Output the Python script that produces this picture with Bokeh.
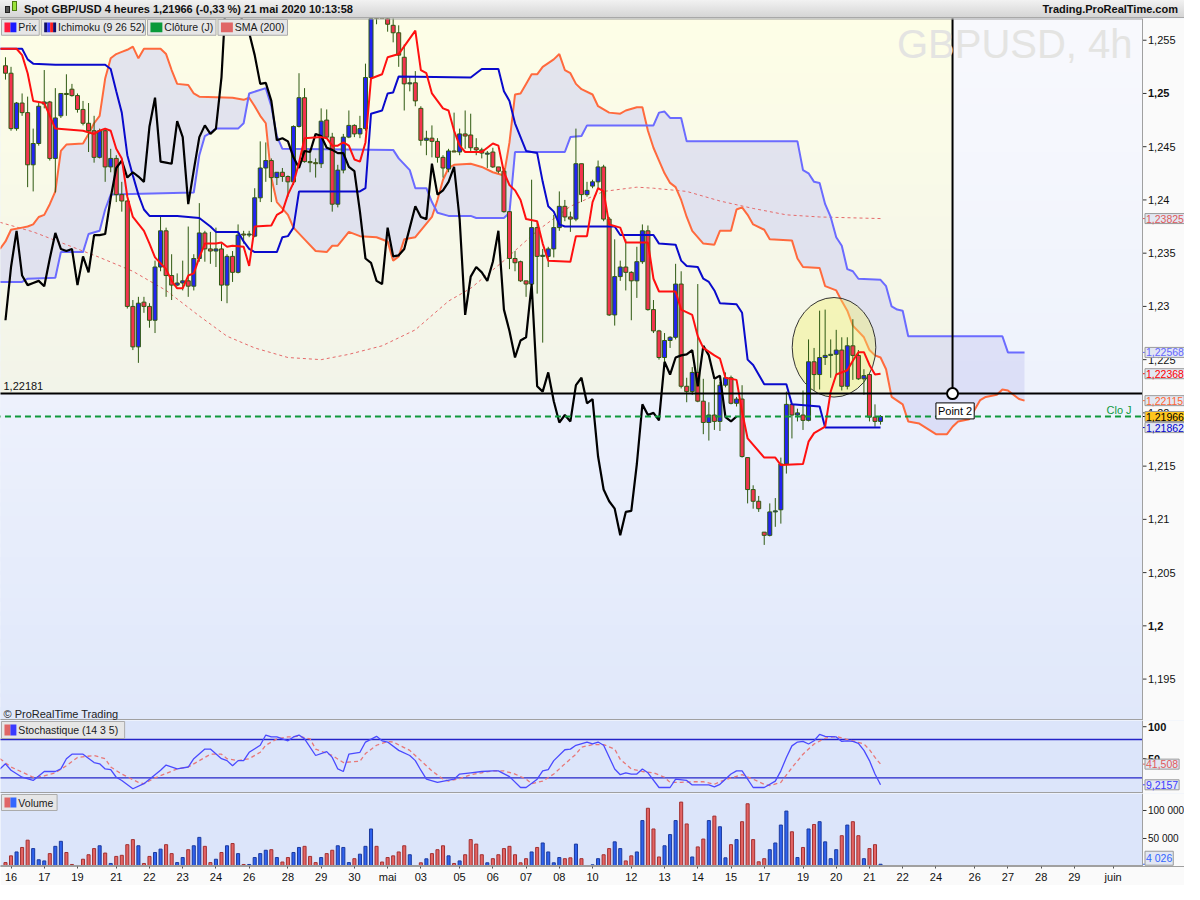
from bokeh.plotting import figure
from bokeh.models import Range1d, FixedTicker, Span, Label, Div, ColumnDataSource
from bokeh.layouts import column
from bokeh.embed import file_html
from bokeh.resources import INLINE

# ---------------- DATA ----------------
open_ = [1.2526,1.2519,1.2467,1.2491,1.2482,1.2433,1.2453,1.2490,1.2492,1.2439,
         1.2479,1.2500,1.2504,1.2498,1.2485,1.2472,1.2465,1.2440,1.2465,1.2431,
         1.2439,1.2405,1.2399,1.2300,1.2262,1.2304,1.2300,1.2287,1.2337,1.2371,
         1.2329,1.2320,1.2322,1.2324,1.2319,1.2345,1.2369,1.2354,1.2352,1.2354,
         1.2320,1.2347,1.2332,1.2368,1.2367,1.2366,1.2402,1.2430,1.2437,1.2421,
         1.2426,1.2422,1.2417,1.2469,1.2496,1.2436,1.2435,1.2434,1.2475,1.2459,
         1.2396,1.2428,1.2459,1.2470,1.2462,1.2467,1.2515,1.2610,1.2590,1.2580,
         1.2564,1.2557,1.2534,1.2509,1.2510,1.2486,1.2456,1.2458,1.2455,1.2440,
         1.2429,1.2446,1.2445,1.2462,1.2461,1.2449,1.2447,1.2443,1.2445,1.2431,
         1.2427,1.2389,1.2345,1.2342,1.2324,1.2321,1.2374,1.2347,1.2347,1.2354,
         1.2374,1.2394,1.2384,1.2382,1.2434,1.2405,1.2413,1.2417,1.2431,1.2382,
         1.2292,1.2328,1.2337,1.2332,1.2324,1.2342,1.2371,1.2297,1.2277,1.2252,
         1.2268,1.2271,1.2321,1.2225,1.2220,1.2238,1.2211,1.2191,1.2198,1.2192,
         1.2226,1.2233,1.2209,1.2213,1.2158,1.2128,1.2117,1.2088,1.2085,1.2107,
         1.2109,1.2152,1.2208,1.2198,1.2198,1.2193,1.2248,1.2236,1.2252,1.2254,
         1.2255,1.2259,1.2225,1.2263,1.2254,1.2232,1.2236,1.2196,1.2192]
high = [1.2534,1.2525,1.2492,1.2500,1.2497,1.2467,1.2491,1.2522,1.2493,1.2505,
        1.2500,1.2518,1.2509,1.2500,1.2493,1.2491,1.2479,1.2467,1.2467,1.2448,
        1.2442,1.2417,1.2400,1.2306,1.2309,1.2309,1.2303,1.2343,1.2384,1.2374,
        1.2349,1.2331,1.2343,1.2375,1.2349,1.2397,1.2371,1.2370,1.2374,1.2359,
        1.2349,1.2352,1.2377,1.2371,1.2371,1.2411,1.2455,1.2454,1.2439,1.2426,
        1.2430,1.2423,1.2470,1.2519,1.2505,1.2448,1.2439,1.2486,1.2485,1.2463,
        1.2433,1.2462,1.2484,1.2471,1.2479,1.2528,1.2643,1.2630,1.2610,1.2590,
        1.2571,1.2564,1.2546,1.2516,1.2521,1.2488,1.2465,1.2470,1.2458,1.2442,
        1.2448,1.2482,1.2467,1.2484,1.2481,1.2458,1.2449,1.2446,1.2449,1.2431,
        1.2430,1.2389,1.2352,1.2343,1.2324,1.2419,1.2380,1.2354,1.2356,1.2386,
        1.2408,1.2400,1.2389,1.2467,1.2434,1.2417,1.2419,1.2437,1.2433,1.2384,
        1.2363,1.2343,1.2363,1.2333,1.2356,1.2377,1.2376,1.2306,1.2278,1.2275,
        1.2272,1.2340,1.2333,1.2233,1.2243,1.2321,1.2232,1.2210,1.2231,1.2229,
        1.2238,1.2235,1.2215,1.2226,1.2158,1.2132,1.2122,1.2088,1.2115,1.2120,
        1.2158,1.2220,1.2208,1.2204,1.2221,1.2269,1.2261,1.2296,1.2297,1.2269,
        1.2278,1.2271,1.2271,1.2288,1.2259,1.2241,1.2236,1.2208,1.2198]
low = [1.2513,1.2465,1.2465,1.2479,1.2412,1.2408,1.2451,1.2486,1.2437,1.2407,
       1.2477,1.2479,1.2497,1.2482,1.2470,1.2445,1.2435,1.2439,1.2417,1.2426,
       1.2398,1.2389,1.2298,1.2259,1.2247,1.2294,1.2280,1.2275,1.2333,1.2309,
       1.2306,1.2319,1.2315,1.2309,1.2315,1.2342,1.2342,1.2340,1.2337,1.2305,
       1.2303,1.2323,1.2331,1.2359,1.2365,1.2365,1.2398,1.2417,1.2398,1.2414,
       1.2417,1.2403,1.2414,1.2468,1.2435,1.2426,1.2421,1.2430,1.2458,1.2389,
       1.2393,1.2425,1.2458,1.2459,1.2458,1.2465,1.2513,1.2565,1.2571,1.2558,
       1.2548,1.2525,1.2484,1.2502,1.2488,1.2451,1.2442,1.2440,1.2435,1.2421,
       1.2426,1.2445,1.2442,1.2448,1.2446,1.2442,1.2439,1.2430,1.2430,1.2425,
       1.2388,1.2335,1.2333,1.2323,1.2309,1.2320,1.2312,1.2266,1.2337,1.2346,
       1.2371,1.2380,1.2370,1.2380,1.2398,1.2403,1.2411,1.2411,1.2380,1.2291,
       1.2282,1.2324,1.2315,1.2287,1.2308,1.2340,1.2296,1.2275,1.2250,1.2247,
       1.2261,1.2269,1.2223,1.2210,1.2217,1.2210,1.2180,1.2174,1.2184,1.2183,
       1.2224,1.2208,1.2206,1.2158,1.2115,1.2110,1.2107,1.2076,1.2084,1.2093,
       1.2096,1.2143,1.2176,1.2192,1.2184,1.2192,1.2221,1.2222,1.2245,1.2233,
       1.2236,1.2221,1.2222,1.2231,1.2231,1.2217,1.2192,1.2187,1.2189]
close = [1.2519,1.2467,1.2491,1.2482,1.2433,1.2453,1.2488,1.2492,1.2439,1.2477,
         1.2500,1.2499,1.2498,1.2485,1.2472,1.2465,1.2440,1.2465,1.2431,1.2439,
         1.2405,1.2399,1.2300,1.2262,1.2303,1.2300,1.2287,1.2337,1.2371,1.2329,
         1.2320,1.2322,1.2324,1.2319,1.2345,1.2369,1.2354,1.2352,1.2354,1.2320,
         1.2347,1.2332,1.2367,1.2367,1.2368,1.2402,1.2430,1.2437,1.2421,1.2426,
         1.2422,1.2417,1.2469,1.2496,1.2436,1.2435,1.2434,1.2474,1.2459,1.2396,
         1.2428,1.2459,1.2470,1.2462,1.2467,1.2515,1.2610,1.2590,1.2580,1.2565,
         1.2557,1.2536,1.2509,1.2510,1.2493,1.2456,1.2458,1.2455,1.2440,1.2430,
         1.2446,1.2445,1.2462,1.2460,1.2449,1.2447,1.2444,1.2444,1.2431,1.2427,
         1.2389,1.2345,1.2341,1.2324,1.2321,1.2374,1.2347,1.2348,1.2354,1.2374,
         1.2394,1.2384,1.2382,1.2434,1.2405,1.2409,1.2417,1.2431,1.2382,1.2292,
         1.2328,1.2337,1.2332,1.2324,1.2342,1.2371,1.2297,1.2277,1.2252,1.2268,
         1.2271,1.2321,1.2225,1.2220,1.2238,1.2211,1.2191,1.2198,1.2192,1.2226,
         1.2233,1.2209,1.2213,1.2159,1.2128,1.2117,1.2110,1.2085,1.2107,1.2108,
         1.2152,1.2208,1.2198,1.2200,1.2193,1.2248,1.2236,1.2252,1.2254,1.2255,
         1.2259,1.2225,1.2263,1.2254,1.2232,1.2235,1.2196,1.2192,1.21966]
volume = [7000,19000,26000,34000,47000,32000,12000,10000,23000,36000,
          45000,25000,3600,1800,13000,21000,32000,37000,24000,5400,
          18000,20000,39000,48000,37000,5400,18000,25000,31000,39000,
          23000,7000,16000,30000,37000,52000,36000,7000,13000,25000,
          37000,41000,23000,3600,3600,16000,23000,29000,30000,16000,
          8000,16000,25000,34000,36000,18000,7000,16000,23000,29000,
          37000,34000,7000,14000,22000,36000,67000,36000,8000,16000,
          19000,26000,37000,21000,1200,6600,13700,23000,30000,37000,
          19000,5400,10000,21000,48000,40000,21000,6600,14000,21000,
          32000,36000,21000,6600,14000,26000,34000,42000,26000,6600,
          16000,14000,15500,40000,14000,1200,3000,14000,21000,32000,
          44000,32000,10000,19000,26000,82000,104000,67000,17000,37000,
          57000,82000,115000,76000,17000,35000,49000,82000,90000,71000,
          15500,39000,48000,80000,112000,48000,8400,14000,30000,42000,
          74000,99000,62000,16000,34000,67000,75000,80000,44000,14000,
          30000,55000,74000,80000,55000,14000,32000,39000,4026]

tenkan_pts = [(-1,1.2542),(2,1.2542),(3,1.2536),(4,1.2519),(5,1.2493),(7,1.2491),(8,1.2479),(9,1.2467),
    (14,1.2465),(16,1.2462),(17,1.2465),(18,1.2467),(19,1.2465),(20,1.2448),(21,1.2439),(22,1.2403),
    (23,1.2384),(25,1.2371),(26,1.2359),(27,1.2346),(29,1.2335),(30,1.2324),(31,1.2317),(32,1.2317),
    (33,1.2329),(34,1.2331),(35,1.2346),(36,1.2359),(38,1.2359),(39,1.2360),(40,1.2356),(41,1.2357),
    (43,1.2356),(44,1.2338),(45,1.2375),(48,1.2376),(49,1.2386),(50,1.2389),(51,1.2405),(52,1.2416),
    (53,1.2435),(54,1.2458),(57,1.2459),(58,1.2458),(59,1.2451),(60,1.2451),(61,1.2454),(62,1.2451),
    (63,1.2438),(64,1.2436),(65,1.2454),(66,1.2514),(68,1.2518),(69,1.2534),(71,1.2537),(74,1.2559),
    (75,1.2522),(76,1.2519),(77,1.2500),(78,1.2493),(79,1.2486),(80,1.2484),(81,1.2465),(82,1.2451),
    (83,1.2445),(86,1.2445),(87,1.2449),(88,1.2453),(89,1.2451),(90,1.2426),(91,1.2414),(92,1.2409),
    (93,1.2400),(94,1.2382),(96,1.2380),(97,1.2359),(98,1.2343),(102,1.2342),(103,1.2366),(105,1.2366),
    (106,1.2398),(107,1.2411),(108,1.2408),(109,1.2377),(111,1.2374),(112,1.2360),(116,1.2360),
    (117,1.2326),(118,1.2314),(121,1.2314),(122,1.2297),(124,1.2292),(125,1.2272),(126,1.2261),
    (128,1.2254),(129,1.2251),(130,1.2233),(132,1.2231),(133,1.2201),(134,1.2176),(137,1.2158),
    (139,1.2158),(140,1.2151),(144,1.2152),(145,1.2173),(146,1.2181),(148,1.2187),(149,1.2220),
    (150,1.2236),(152,1.2240),(153,1.2249),(154,1.2257),(155,1.2257),(156,1.2245),(157,1.2236),
    (158,1.22368)]
kijun_pts = [(-1,1.2542),(3,1.2542),(4,1.2532),(5,1.2528),(9,1.2527),(18,1.2527),(19,1.2523),(20,1.2502),
    (21,1.2482),(22,1.2442),(23,1.2423),(24,1.2405),(25,1.2391),(26,1.2385),(31,1.2385),(35,1.2383),
    (37,1.2375),(38,1.2370),(42,1.2370),(43,1.2361),(44,1.2354),(45,1.2351),(49,1.2351),(50,1.2365),
    (51,1.2366),(52,1.2374),(53,1.2408),(64,1.2408),(65,1.2411),(66,1.2481),(68,1.2484),(69,1.2500),
    (70,1.2501),(71,1.2516),(84,1.2515),(85,1.2519),(86,1.2523),(89,1.2523),(90,1.2502),(91,1.2493),
    (92,1.2472),(94,1.2446),(96,1.2444),(97,1.2417),(98,1.2394),(99,1.2389),(100,1.2377),(101,1.2375),
    (110,1.2375),(111,1.2367),(117,1.2367),(118,1.2359),(121,1.2358),(122,1.2343),(123,1.2338),
    (125,1.2337),(126,1.2326),(127,1.2323),(128,1.2315),(129,1.2303),(132,1.2302),(133,1.2294),
    (134,1.2250),(135,1.2245),(137,1.2227),(141,1.2227),(142,1.2208),(147,1.2206),(148,1.21862),
    (158,1.21862)]
senkou_a_pts = [(-1,1.2354),(0,1.2361),(1,1.2372),(3,1.2374),(4,1.2375),(5,1.2377),(6,1.2384),(7,1.2386),
    (8,1.2396),(9,1.2408),(10,1.2446),(11,1.2452),(14,1.2453),(15,1.2462),(16,1.2472),(17,1.2479),
    (18,1.2514),(19,1.2533),(20,1.2537),(21,1.2539),(22,1.2541),(23,1.2544),(24,1.2533),(25,1.2542),
    (28,1.2542),(29,1.2537),(30,1.2522),(31,1.2509),(33,1.2508),(34,1.2500),(35,1.2497),(41,1.2496),
    (43,1.2494),(44,1.2496),(45,1.2488),(46,1.2479),(47,1.2472),(48,1.2421),(49,1.2398),(51,1.2386),
    (52,1.2374),(54,1.2363),(56,1.2352),(58,1.2351),(59,1.2357),(60,1.2357),(62,1.2370),(64,1.2366),
    (67,1.2365),(69,1.2361),(70,1.2343),(71,1.2347),(72,1.2363),(74,1.2365),(77,1.2384),(78,1.2400),
    (79,1.2419),(80,1.2430),(81,1.2433),(84,1.2434),(86,1.2431),(88,1.2426),(90,1.2423),(91,1.2454),
    (92,1.2499),(93,1.2500),(94,1.2509),(95,1.2518),(96,1.2518),(97,1.2525),(99,1.2532),(100,1.2537),
    (101,1.2522),(102,1.2519),(103,1.2509),(104,1.2504),(106,1.2499),(107,1.2488),(109,1.2482),
    (111,1.2481),(112,1.2484),(114,1.2487),(115,1.2487),(116,1.2465),(117,1.2449),(118,1.2437),
    (119,1.2425),(120,1.2416),(121,1.2412),(122,1.2400),(123,1.2384),(124,1.2371),(126,1.2359),
    (128,1.2358),(129,1.2371),(131,1.2371),(132,1.2391),(133,1.2393),(134,1.2386),(135,1.2377),
    (137,1.2372),(138,1.2363),(142,1.2362),(143,1.2345),(144,1.2337),(147,1.2336),(148,1.2319),
    (150,1.2315),(151,1.2305),(152,1.2296),(153,1.2282),(155,1.2271),(156,1.2259),(157,1.2254),
    (158,1.2252),(159,1.2241),(160,1.2215),(162,1.2208),(163,1.2192),(165,1.2190),(168,1.2180),
    (170,1.2180),(171,1.2187),(172,1.2192),(174,1.2194),(176,1.2212),(177,1.2215),(179,1.2217),
    (180,1.2222),(181,1.2221),(183,1.2213),(184,1.22115)]
senkou_b_pts = [(-1,1.2323),(3,1.2323),(4,1.2326),(9,1.2327),(10,1.2351),(14,1.2351),(15,1.2368),(17,1.2371),
    (18,1.2391),(19,1.2405),(34,1.2407),(35,1.2442),(36,1.2460),(37,1.2463),(38,1.2467),(42,1.2467),
    (43,1.2472),(44,1.2500),(47,1.2505),(48,1.2488),(49,1.2460),(50,1.2448),(70,1.2447),(71,1.2439),
    (73,1.2428),(74,1.2411),(76,1.2411),(77,1.2398),(78,1.2388),(80,1.2385),(84,1.2385),(85,1.2383),
    (90,1.2383),(91,1.2388),(92,1.2445),(101,1.2445),(102,1.2459),(104,1.2460),(105,1.2470),
    (117,1.2470),(118,1.2482),(119,1.2483),(120,1.2477),(122,1.2477),(123,1.2455),(143,1.2455),
    (144,1.2428),(145,1.2425),(146,1.2417),(147,1.2416),(148,1.2396),(149,1.2384),(150,1.2365),
    (151,1.2357),(152,1.2335),(153,1.2333),(154,1.2326),(158,1.2325),(159,1.2319),(160,1.2300),
    (161,1.2297),(162,1.2296),(163,1.2272),(180,1.2272),(181,1.22568),(184,1.22568)]
sma_pts = [(-1,1.2379),(5,1.2370),(11,1.2358),(17,1.2346),(23,1.2333),(29,1.2315),(35,1.2291),(40,1.2272),
    (45,1.2261),(51,1.2252),(57,1.2250),(62,1.2255),(68,1.2263),(74,1.2278),(80,1.2305),(84,1.2317),
    (90,1.2343),(96,1.2371),(102,1.2394),(108,1.2408),(114,1.2412),(117,1.2411),(123,1.2408),
    (129,1.2399),(135,1.2392),(141,1.2386),(147,1.2384),(158,1.23825)]
stoch_k_pts = [(-1,34),(0,42),(1,32),(3,21),(5,16),(7,30),(9,30),(10,34),(11,50),(12,57),(14,57),(16,44),
    (17,42),(18,34),(19,33),(20,21),(21,16),(23,3),(25,11),(26,18),(28,32),(29,40),(31,34),(33,37),
    (34,50),(36,65),(37,65),(39,50),(40,47),(41,39),(42,47),(43,47),(44,60),(46,71),(47,87),(48,84),
    (49,84),(51,78),(52,84),(53,87),(54,81),(56,55),(58,61),(59,52),(60,34),(61,30),(62,57),(64,60),
    (65,76),(67,85),(68,78),(69,76),(71,63),(73,55),(74,47),(75,32),(76,18),(78,13),(81,18),(82,26),
    (84,28),(86,30),(88,31),(89,31),(91,22),(93,5),(94,5),(96,18),(97,31),(98,33),(99,47),(101,64),
    (102,65),(103,71),(105,76),(106,73),(107,76),(108,71),(110,34),(111,25),(112,28),(113,26),(114,26),
    (115,34),(116,28),(118,5),(120,5),(121,18),(123,16),(124,9),(127,9),(128,6),(129,10),(131,26),
    (132,31),(133,31),(134,18),(135,5),(137,5),(139,15),(140,31),(141,52),(142,70),(143,76),(144,77),
    (145,73),(146,78),(147,88),(148,85),(150,84),(151,77),(152,78),(153,77),(154,74),(155,63),(156,47),
    (157,26),(158,9.2157)]
stoch_d_pts = [(-1,50),(1,37),(3,29),(5,21),(7,23),(9,28),(11,39),(13,52),(16,55),(18,50),(19,37),(21,26),
    (24,13),(25,11),(27,20),(29,27),(31,34),(33,37),(35,47),(37,57),(39,57),(40,50),(42,47),(44,50),
    (46,60),(47,71),(49,81),(51,84),(53,85),(55,81),(56,65),(59,55),(61,44),(64,46),(65,58),(67,71),
    (69,77),(70,76),(73,63),(75,47),(77,31),(79,18),(80,15),(82,19),(84,25),(86,28),(88,31),(90,31),
    (92,26),(94,18),(95,11),(97,15),(99,26),(101,42),(103,57),(104,68),(106,72),(108,72),(110,65),
    (111,49),(113,34),(115,30),(117,28),(119,21),(120,13),(122,13),(124,14),(126,14),(128,10),(129,14),
    (131,20),(133,25),(135,18),(137,10),(138,8),(140,13),(142,36),(144,57),(146,73),(148,82),(150,85),
    (152,80),(153,78),(155,73),(156,64),(157,52),(158,41.508)]

day_ticks = [1,7,13,20,26,32,38,44,51,57,63,69,75,82,88,94,100,106,113,119,125,131,137,144,150,156,
             162,168,175,181,187,193,200]
day_labels = ["16","17","19","21","22","23","24","26","28","29","30","mai","03","05","06","07","08",
              "10","12","13","14","15","17","19","20","21","22","24","26","27","28","29","juin"]
price_ticks = [1.195,1.2,1.205,1.21,1.215,1.22,1.225,1.23,1.235,1.24,1.245,1.25,1.255]
price_tick_labels = ["1,195","1,2","1,205","1,21","1,215","1,22","1,225","1,23","1,235","1,24",
                     "1,245","1,25","1,255"]
price_bold = ["1,25", "1,2"]
stoch_ticks, stoch_tick_labels = [50, 100], ["50", "100"]
vol_ticks, vol_tick_labels = [50000, 100000], ["50 000", "100 000"]
level_line = 1.22181          # horizontal drawing line
point2 = (171, 1.22181)       # "Point 2"
close_day = 1.21966           # Clôture (J)
circle_center = (149.6, 1.22616)
circle_size = (15.1, 0.00935)
price_tags = [(1.23825,"1,23825","#E05A5A","#E2E7F2"),(1.22568,"1,22568","#6666FF","#E2E7F2"),
              (1.22368,"1,22368","#FF0000","#E2E7F2"),(1.22115,"1,22115","#FF6633","#E2E7F2"),
              (1.21966,"1,21966","#000000","#FFC61E"),(1.21862,"1,21862","#0000CC","#E2E7F2")]
stoch_tags = [(41.508,"41,508","#E05A5A"),(9.2157,"9,2157","#3A3AFF")]
vol_tag = (4026, "4 026", "#3366FF")

# ---------------- LAYOUT ----------------
FONT = "Liberation Sans"
W = 1184                      # frame width (page x 8 .. 1192)
DATA_W = 1142                 # pixels used by the data area (page x 8 .. 1150)
HH, PH, SH, VH, XH = 18, 702, 73, 73, 17
PR = (1.19111, 1.25704)
SR = (-4.4, 109.7)
VR = (0, 130357)
X0, X1150 = -0.9, 205.3

def fx(rx): return X0 + rx / 1150.0 * (X1150 - X0)          # reference pixel -> data x
def fpx(px): return X0 + (px - 8) * (X1150 - X0) / DATA_W     # page pixel -> data x
def fp(ry): return PR[1] - (ry - 21) / 712.0 * (PR[1] - PR[0])
def fs(ry): return SR[1] - (ry - 733) / 73.0 * (SR[1] - SR[0])
def fv(ry): return VR[1] - (ry - 806) / 73.0 * (VR[1] - VR[0])

XEND = fpx(8 + W)
AX = X1150

def mix(c1, c2, t):
    a = [int(c1[i:i+2], 16) for i in (1, 3, 5)]
    b = [int(c2[i:i+2], 16) for i in (1, 3, 5)]
    return "#%02x%02x%02x" % tuple(round(a[k] + (b[k] - a[k]) * t) for k in range(3))

def gradient(f, x0, x1, ytop, ybot, ctop, cbot, n=24):
    L, R, T, B, C = [], [], [], [], []
    for k in range(n):
        t0 = ytop + (ybot - ytop) * k / n
        t1 = ytop + (ybot - ytop) * (k + 1.3) / n
        if k == n - 1:
            t1 = ybot
        L.append(x0); R.append(x1); T.append(t0); B.append(t1); C.append(mix(ctop, cbot, k / (n - 1)))
    f.quad(left=L, right=R, top=T, bottom=B, fill_color=C, line_color=None)

def lab(f, x, y, text, size="11px", color="#111111", align="left", baseline="middle",
        style="normal", bg=None, border=None, pad=0, yoff=0):
    kw = {}
    if bg is not None:
        kw["background_fill_color"] = bg
    if border is not None:
        kw["border_line_color"] = border
    f.add_layout(Label(x=x, y=y, text=text, text_font=FONT, text_font_size=size, text_color=color,
                       text_align=align, text_baseline=baseline, text_font_style=style,
                       padding=pad, y_offset=yoff, **kw))

x_range = Range1d(X0, XEND)

def make_fig(h, yr, xaxis=False):
    f = figure(frame_width=W, frame_height=h, x_range=x_range, y_range=Range1d(*yr),
               output_backend="svg", toolbar_location=None, y_axis_location=None,
               x_axis_location="below" if xaxis else None, min_border=0,
               min_border_bottom=XH if xaxis else 0)
    f.xgrid.visible = False
    f.ygrid.visible = False
    f.outline_line_color = None
    f.border_fill_color = "#FAFAFA"
    f.background_fill_color = "#DCE5FA"
    return f

def right_scale(f, yr, ticks, texts, bold=(), size="11px", top_sep=False):
    span = yr[1] - yr[0]
    f.quad(left=[AX], right=[XEND + 1], top=[yr[1] + span], bottom=[yr[0] - span],
           fill_color="#FAFAFA", line_color=None)
    f.add_layout(Span(location=AX, dimension="height", line_color="#A0A0A0", line_width=1))
    f.segment(x0=[X0 - 1], x1=[AX], y0=[yr[0]], y1=[yr[0]], line_color="#A0A0A0", line_width=3)
    if top_sep:
        f.segment(x0=[X0 - 1], x1=[AX], y0=[yr[1]], y1=[yr[1]], line_color="#A0A0A0", line_width=2)
    n = len(ticks)
    f.segment(x0=[AX] * n, x1=[fpx(1154)] * n, y0=ticks, y1=ticks, line_color="#333333", line_width=1)
    for v, t in zip(ticks, texts):
        lab(f, fpx(1155.5), v, t, size=size, style="bold" if t in bold else "normal")

def tag(f, y, text, color, bg="#E2E7F2", yoff=0):
    f.segment(x0=[AX], x1=[fpx(1153)], y0=[y], y1=[y], line_color=color, line_width=1)
    lab(f, fpx(1152.5), y, text, size="10.5px", color=color, bg=bg, border="#9A9A9A", pad=1, yoff=yoff)

def legend_box(f, fy, x0, x1, y0, y1, icon, text):
    f.quad(left=[fx(x0)], right=[fx(x1)], top=[fy(y0)], bottom=[fy(y1)],
           fill_color="#E6E6E6", line_color="#ABABAB", line_width=1)
    n = len(icon)
    ix0, ix1 = x0 + 3, x0 + 15
    w = (ix1 - ix0) / n
    f.quad(left=[fx(ix0 + k * w) for k in range(n)], right=[fx(ix0 + (k + 1) * w) for k in range(n)],
           top=[fy(y0 + 3)] * n, bottom=[fy(y1 - 3)] * n, fill_color=icon, line_color=None)
    lab(f, fx(x0 + 17), fy((y0 + y1) / 2.0), text, size="10.5px", color="#1A1A1A")

# ---------------- PRICE PANEL ----------------
p = make_fig(PH, PR)
p.background_fill_color = "#E2E9FB"
xl = X0 - 1
gradient(p, xl, AX, level_line, PR[0], "#EDF1FC", "#E0E8FA")
gradient(p, point2[0], AX, PR[1] + 0.001, level_line, "#F8F9FD", "#EEF2FC")
gradient(p, xl, point2[0], PR[1] + 0.001, level_line, "#FEFEE7", "#F2F4E9")

sa_x, sa_y = zip(*senkou_a_pts)
sb_x, sb_y = zip(*senkou_b_pts)
p.patch(list(sa_x) + list(sb_x)[::-1], list(sa_y) + list(sb_y)[::-1],
        fill_color="#CDD0F2", fill_alpha=0.55, line_color=None)

sx, sy = zip(*sma_pts)
p.line(sx, sy, line_color="#E56A6A", line_width=1, line_dash="3 3")
p.line(sa_x, sa_y, line_color="#FF6A3D", line_width=2)
p.line(sb_x, sb_y, line_color="#6B6BFF", line_width=2)

p.ellipse(x=[circle_center[0]], y=[circle_center[1]], width=circle_size[0], height=circle_size[1],
          fill_color="#F2F26A", fill_alpha=0.38, line_color="#333333", line_width=1)

idx = list(range(len(close)))
up = [c >= o for o, c in zip(open_, close)]
src = ColumnDataSource(dict(
    x=idx, h=high, l=low,
    top=[max(o, c) for o, c in zip(open_, close)],
    bottom=[min(o, c) for o, c in zip(open_, close)],
    color=["#2323F2" if u else "#F3344F" for u in up]))
p.segment(x0="x", y0="h", x1="x", y1="l", line_color="#2F5A12", line_width=1, source=src)
p.vbar(x="x", width=0.72, top="top", bottom="bottom", fill_color="color",
       line_color="#2F5A12", line_width=1, source=src)

kx, ky = zip(*kijun_pts)
p.line(kx, ky, line_color="#0A0ACC", line_width=2)
p.line(idx[:len(close) - 26], close[26:], line_color="#000000", line_width=2.2)
tx, ty = zip(*tenkan_pts)
p.line(tx, ty, line_color="#FF1010", line_width=2)

p.segment(x0=[xl], x1=[AX], y0=[level_line], y1=[level_line], line_color="black", line_width=2)
p.segment(x0=[xl], x1=[AX], y0=[close_day], y1=[close_day], line_color="#109A3C", line_width=2,
          line_dash="6 4")
p.segment(x0=[point2[0]], y0=[point2[1]], x1=[point2[0]], y1=[PR[1] + 0.01],
          line_color="black", line_width=2)
p.scatter(x=[point2[0]], y=[point2[1]], size=11, marker="circle", fill_color="white",
          line_color="black", line_width=2)

right_scale(p, PR, price_ticks, price_tick_labels, bold=price_bold, top_sep=True)

lab(p, fx(1140), fp(47), "GBPUSD, 4h", size="40px", color="#E4E4E2", align="right")
legend_box(p, fp, 1, 39, 22, 38, ["#FF1A3C", "#1A1AFF"], "Prix")
legend_box(p, fp, 41, 146, 22, 38, ["#10106A", "#3030FF", "#FF2020", "#10106A"], "Ichimoku (9 26 52)")
legend_box(p, fp, 148, 217, 22, 38, ["#0A9A3A"], "Clôture (J)")
legend_box(p, fp, 219, 289, 22, 38, ["#E06666"], "SMA (200)")
lab(p, fx(3), fp(726), "© ProRealTime Trading", color="#222222")
lab(p, fx(3), fp(394), "1,22181", color="#111111")
lab(p, fx(1139), fp(418), "Clo J", color="#109A3C", align="right")
lab(p, fx(942), fp(419), "Point 2", color="#000000", bg="#FFFFFF", border="#000000", pad=2)
for v, t, c, bg in price_tags:
    tag(p, v, t, c, bg=bg)

# ---------------- STOCHASTIC PANEL ----------------
ps = make_fig(SH, SR)
ps.segment(x0=[xl, xl], x1=[AX, AX], y0=[80, 20], y1=[80, 20], line_color="#2424C8", line_width=1.4)
dx, dy = zip(*stoch_d_pts)
ps.line(dx, dy, line_color="#E87878", line_width=1.3, line_dash="4 3")
kx2, ky2 = zip(*stoch_k_pts)
ps.line(kx2, ky2, line_color="#4A4AFF", line_width=1.3)
right_scale(ps, SR, stoch_ticks, stoch_tick_labels, bold=("100", "50"))
legend_box(ps, fs, 1, 125, 734, 751, ["#E06666", "#3A3AFF"], "Stochastique (14 3 5)")
for v, t, c in stoch_tags:
    tag(ps, v, t, c)

# ---------------- VOLUME PANEL ----------------
pv = make_fig(VH, VR, xaxis=True)
vsrc = ColumnDataSource(dict(
    x=idx, top=volume,
    fill=["#2F62EE" if u else "#E36464" for u in up],
    line=["#1B3A9E" if u else "#A33030" for u in up]))
pv.vbar(x="x", width=0.55, top="top", bottom=0, fill_color="fill", line_color="line",
        line_width=1, source=vsrc)
right_scale(pv, VR, vol_ticks, vol_tick_labels, size="10px")
legend_box(pv, fv, 1, 57, 807, 823, ["#E06666", "#3366FF"], "Volume")
tag(pv, vol_tag[0], vol_tag[1], vol_tag[2], yoff=6)

xa = pv.xaxis[0]
xa.ticker = FixedTicker(ticks=day_ticks)
xa.major_label_overrides = {t: l for t, l in zip(day_ticks, day_labels)}
xa.axis_line_color = "#A0A0A0"
xa.major_tick_line_color = "#555555"
xa.major_tick_out = 2
xa.major_tick_in = 0
xa.minor_tick_line_color = None
xa.major_label_standoff = 2
xa.major_label_text_font = FONT
xa.major_label_text_font_size = "11px"
xa.major_label_text_color = "#111111"

# ---------------- HEADER ----------------
header_html = """
<div style="position:relative;width:1184px;height:18px;overflow:hidden;
 background:linear-gradient(#F2F2F2,#D5D5D5);border-bottom:1px solid #A8A8A8;box-sizing:border-box;
 font-family:'Liberation Sans',Arial,sans-serif;font-size:11px;font-weight:bold;color:#111;">
 <span style="position:absolute;left:5px;top:6px;width:5px;height:7px;background:#555;border:1px solid #222;"></span>
 <span style="position:absolute;left:12px;top:1px;width:5px;height:10px;background:#9BE23C;border:1px solid #4C7A10;"></span>
 <span style="position:absolute;left:24px;top:2px;">Spot GBP/USD 4 heures 1,21966 (-0,33 %) 21 mai 2020 10:13:58</span>
 <span style="position:absolute;right:6px;top:2px;">Trading.ProRealTime.com</span>
</div>
"""
header = Div(text=header_html, width=W, height=HH, styles={"margin": "0", "padding": "0"})

layout = column(header, p, ps, pv, spacing=0)
open("out.html", "w").write(file_html(layout, INLINE))
